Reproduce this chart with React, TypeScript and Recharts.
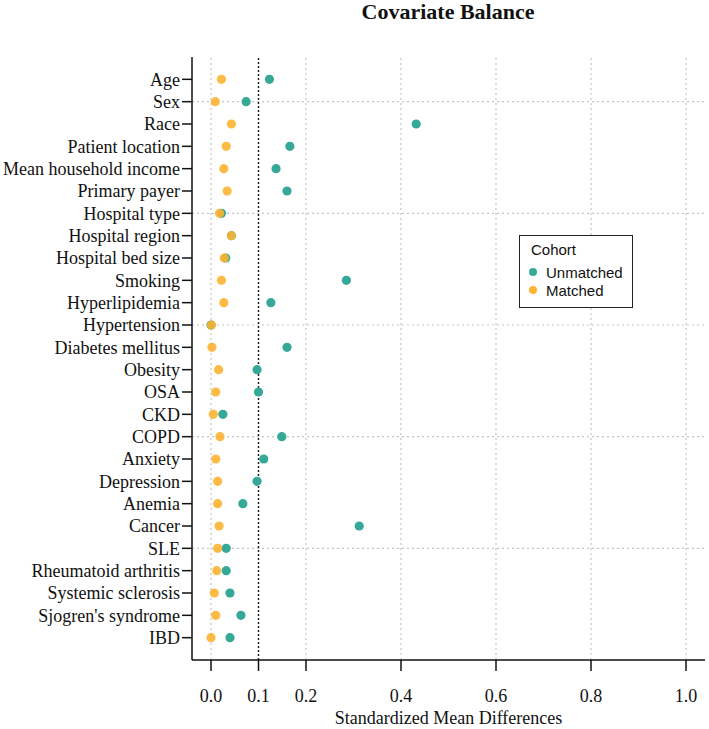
import React from 'react';
import {
  ScatterChart,
  Scatter,
  XAxis,
  YAxis,
  ReferenceLine,
  Legend
} from 'recharts';

// covariates, top to bottom
const covariates = [
  'Age', 'Sex', 'Race', 'Patient location', 'Mean household income', 'Primary payer',
  'Hospital type', 'Hospital region', 'Hospital bed size', 'Smoking', 'Hyperlipidemia',
  'Hypertension', 'Diabetes mellitus', 'Obesity', 'OSA', 'CKD', 'COPD', 'Anxiety',
  'Depression', 'Anemia', 'Cancer', 'SLE', 'Rheumatoid arthritis', 'Systemic sclerosis',
  "Sjogren's syndrome", 'IBD'
];

const unmatched = [
  0.123, 0.074, 0.432, 0.166, 0.137, 0.160, 0.022, 0.043, 0.031, 0.285, 0.126,
  0.000, 0.160, 0.097, 0.100, 0.025, 0.149, 0.111, 0.097, 0.067, 0.312, 0.032,
  0.032, 0.040, 0.063, 0.040
];

const matched = [
  0.022, 0.009, 0.043, 0.032, 0.027, 0.034, 0.018, 0.043, 0.028, 0.022, 0.027,
  0.001, 0.002, 0.016, 0.010, 0.005, 0.019, 0.010, 0.014, 0.014, 0.017, 0.014,
  0.012, 0.007, 0.010, 0.000
];

const xTicks = [0, 0.1, 0.2, 0.4, 0.6, 0.8, 1.0];
const gridX = [0, 0.2, 0.4, 0.6, 0.8, 1.0];
const gridRows = [2, 7, 12, 17, 22];

const TEAL = '#36a898';
const ORANGE = '#fdb431';
const SERIF = '"Liberation Serif", "Times New Roman", serif';
const SANS = '"Liberation Sans", Arial, sans-serif';

const unmatchedData = unmatched.map((v, i) => ({ smd: v, row: i + 1 }));
const matchedData = matched.map((v, i) => ({ smd: v, row: i + 1 }));
const yTicks = covariates.map((_, i) => i + 1);

const dot = (color: string, opacity: number) => (props: any) => (
  <circle cx={props.cx} cy={props.cy} r={4.6} fill={color} fillOpacity={opacity} />
);

const CohortLegend = () => (
  <div
    style={{
      position: 'relative',
      width: 114,
      height: 73,
      border: '1.5px solid #222',
      boxSizing: 'border-box',
      background: '#fff',
      fontFamily: SANS,
      fontSize: 15,
      color: '#111'
    }}
  >
    <div style={{ position: 'absolute', left: 11, top: 5, lineHeight: '18px' }}>Cohort</div>
    <span style={{ position: 'absolute', left: 9, top: 32, width: 8, height: 8, borderRadius: 4, background: TEAL }} />
    <div style={{ position: 'absolute', left: 26, top: 28, lineHeight: '18px' }}>Unmatched</div>
    <span style={{ position: 'absolute', left: 9, top: 50, width: 8, height: 8, borderRadius: 4, background: ORANGE }} />
    <div style={{ position: 'absolute', left: 26, top: 46, lineHeight: '18px' }}>Matched</div>
  </div>
);

export default function App() {
  return (
    <div style={{ position: 'absolute', left: 0, top: 0, width: 709, height: 729, background: '#fff' }}>
      <div
        style={{
          position: 'absolute',
          top: 0,
          left: 248,
          width: 400,
          textAlign: 'center',
          fontFamily: SERIF,
          fontWeight: 'bold',
          fontSize: 22,
          lineHeight: '24px',
          color: '#111'
        }}
      >
        Covariate Balance
      </div>
      <ScatterChart width={709} height={729} margin={{ top: 57, right: 4, bottom: 0, left: 0 }}>
        <XAxis
          type="number"
          dataKey="smd"
          domain={[-0.04, 1.04]}
          ticks={xTicks}
          allowDataOverflow
          tickFormatter={(v: number) => v.toFixed(1)}
          height={69}
          tickSize={11}
          tickMargin={18}
          stroke="#111"
          strokeWidth={1.5}
          tick={{ fill: '#111', fontSize: 18, fontFamily: SERIF }}
          label={{
            value: 'Standardized Mean Differences',
            position: 'insideBottom',
            offset: 5,
            fill: '#111',
            fontSize: 18,
            fontFamily: SERIF
          }}
        />
        <YAxis
          type="number"
          dataKey="row"
          domain={[0, 27]}
          reversed
          ticks={yTicks}
          interval={0}
          tickFormatter={(v: number) => covariates[v - 1]}
          width={192}
          tickSize={10}
          tickMargin={2}
          stroke="#111"
          strokeWidth={1.5}
          tick={{ fill: '#111', fontSize: 18, fontFamily: SERIF }}
        />
        <Scatter
          name="Unmatched"
          data={unmatchedData}
          fill={TEAL}
          shape={dot(TEAL, 1)}
          isAnimationActive={false}
        />
        <Scatter
          name="Matched"
          data={matchedData}
          fill={ORANGE}
          shape={dot(ORANGE, 0.9)}
          isAnimationActive={false}
        />
        {gridX.map((x) => (
          <ReferenceLine key={`gx-${x}`} x={x} stroke="#c4c4c4" strokeDasharray="2 3" strokeWidth={1.2} />
        ))}
        {gridRows.map((y) => (
          <ReferenceLine key={`gy-${y}`} y={y} stroke="#c4c4c4" strokeDasharray="2 3" strokeWidth={1.2} />
        ))}
        <ReferenceLine x={0.1} stroke="#222" strokeDasharray="2 2" strokeWidth={1.5} />
        <Legend
          layout="vertical"
          align="center"
          verticalAlign="middle"
          content={() => <CohortLegend />}
          wrapperStyle={{ left: 519, top: 235, width: 114, height: 73 }}
        />
      </ScatterChart>
    </div>
  );
}
